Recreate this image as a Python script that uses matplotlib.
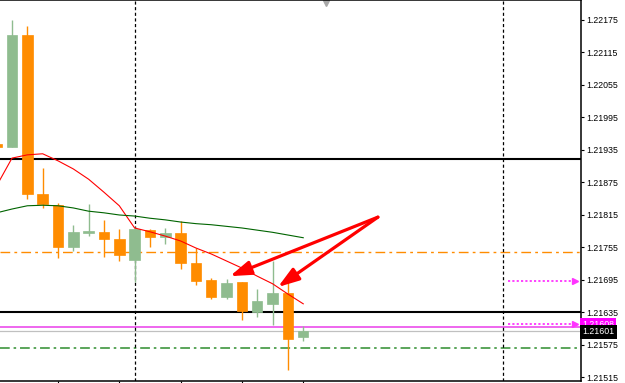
import numpy as np
import matplotlib
matplotlib.use("Agg")
import matplotlib.pyplot as plt
import matplotlib.transforms as mtransforms

# candle data (bar index, open, high, low, close)
bar_idx = list(range(-1, 20))
opens = [1.21946, 1.21941, 1.22147, 1.21853, 1.21833, 1.21755, 1.21782, 1.21784, 1.21770, 1.21732,
         1.21787, 1.21775, 1.21781, 1.21726, 1.21695, 1.21664, 1.21691, 1.21636, 1.21651, 1.21671, 1.21589]
highs = [1.21950, 1.22175, 1.22163, 1.21901, 1.21837, 1.21797, 1.21835, 1.21806, 1.21789, 1.21792,
         1.21789, 1.21791, 1.21804, 1.21754, 1.21699, 1.21697, 1.21691, 1.21678, 1.21730, 1.21706, 1.21610]
lows = [1.21938, 1.21940, 1.21844, 1.21828, 1.21735, 1.21749, 1.21776, 1.21738, 1.21730, 1.21692,
        1.21755, 1.21761, 1.21715, 1.21686, 1.21659, 1.21659, 1.21621, 1.21626, 1.21611, 1.21528, 1.21583]
closes = [1.21941, 1.22147, 1.21853, 1.21835, 1.21755, 1.21784, 1.21786, 1.21770, 1.21741, 1.21790,
          1.21774, 1.21781, 1.21726, 1.21694, 1.21663, 1.21690, 1.21637, 1.21657, 1.21671, 1.21586, 1.21601]

# moving averages
ma_fast = [1.21869, 1.21920, 1.21926, 1.21928, 1.21915, 1.21900, 1.21881, 1.21857, 1.21832, 1.21791,
           1.21784, 1.21776, 1.21767, 1.21754, 1.21743, 1.21730, 1.21717, 1.21702, 1.21688, 1.21669, 1.21651]
ma_slow = [1.21819, 1.21826, 1.21832, 1.21833, 1.21832, 1.21828, 1.21822, 1.21819, 1.21815, 1.21813,
           1.21809, 1.21806, 1.21802, 1.21799, 1.21797, 1.21794, 1.21791, 1.21787, 1.21783, 1.21778, 1.21773]

# horizontal levels
black_levels = [1.21918, 1.21635]
orange_level = 1.21747
green_level = 1.21570
magenta_level = 1.21608
bid_level = 1.21601
dotted_arrows = [1.21694, 1.21613]

v_lines = [8, 32]
x_ticks = [3, 7, 11, 15, 19]
y_ticks = [1.21515, 1.21575, 1.21635, 1.21695, 1.21755, 1.21815,
           1.21875, 1.21935, 1.21995, 1.22055, 1.22115, 1.22175]

arrow_start = (23.87, 1.21811)
arrow_ends = [(14.22, 1.21702), (17.35, 1.21682)]

UP = "#8fbc8f"
DOWN = "#ff8c00"

fig = plt.figure(figsize=(6.25, 3.83), dpi=100)
ax = fig.add_axes([0, 2 / 383, 581 / 625, 381 / 383])

ax.set_xlim(-0.783, 37.12)
ax.set_ylim(1.215085, 1.222119)

# reference lines
for lv in black_levels:
    ax.axhline(lv, color="black", lw=1.5, zorder=1)
ax.axhline(orange_level, color=DOWN, lw=1, dashes=(7, 3, 2, 3), zorder=1)
ax.axhline(green_level, color="#5aa55a", lw=1.4, dashes=(5, 2, 1.3, 2), zorder=1)
ax.axhline(magenta_level, color="#ee66ee", lw=1.4, zorder=1)
ax.axhline(bid_level, color="#c0c0c0", lw=0.9, zorder=1)
for xv in v_lines:
    ax.axvline(xv, color="black", lw=0.9, dashes=(2.5, 2), zorder=1)

# candles
for i, o, h, l, c in zip(bar_idx, opens, highs, lows, closes):
    col = UP if c >= o else DOWN
    ax.vlines(i, l, h, color=col, lw=1, zorder=2)
    ax.bar(i, max(abs(c - o), 0.000015), bottom=min(o, c), width=0.68,
           color=col, edgecolor=col, lw=0.5, zorder=3)

ax.plot(bar_idx, ma_fast, color="red", lw=0.8, zorder=4)
ax.plot(bar_idx, ma_slow, color="#006400", lw=0.8, zorder=4)

# red arrows
for end in arrow_ends:
    ax.annotate("", xy=end, xytext=arrow_start,
                arrowprops=dict(arrowstyle="-|>,head_length=0.9,head_width=0.3",
                                color="red", lw=2.3, mutation_scale=14,
                                shrinkA=0, shrinkB=0), zorder=5)

# magenta dotted arrows at the right
for lv in dotted_arrows:
    ax.plot([32.35, 36.7], [lv, lv], color="#ff33ff", lw=1.3, dashes=(1.2, 1.2), zorder=4)
    ax.plot([36.75], [lv], marker=">", color="#ff33ff", ms=4, zorder=4)

# small marker at top
trans = mtransforms.blended_transform_factory(ax.transData, ax.transAxes)
ax.plot([20.48], [0.993], marker="v", color="#a8a8a8", ms=4.5, transform=trans, clip_on=False)

# axes styling
for side in ["left"]:
    ax.spines[side].set_visible(False)
for side in ["top", "right", "bottom"]:
    ax.spines[side].set_linewidth(1.1)

ax.yaxis.tick_right()
ax.set_yticks(y_ticks)
ax.set_yticklabels(["%.5f" % v for v in y_ticks], fontfamily="Liberation Sans", fontsize=6.3)
ax.tick_params(axis="y", length=2.5, width=0.8, pad=1.5)
ax.set_xticks(x_ticks)
ax.set_xticklabels([])
ax.tick_params(axis="x", length=2.5, width=0.8)

# price labels on the axis
tr2 = mtransforms.blended_transform_factory(ax.transAxes, ax.transData)
ax.text(1.002, magenta_level + 0.00004, "1.21608", transform=tr2, fontsize=6.3,
        fontfamily="Liberation Sans", color="white", va="center", ha="left", clip_on=False,
        bbox=dict(boxstyle="square,pad=0.25", fc="#ff00ff", ec="none"))
ax.text(1.002, bid_level - 0.00002, "1.21601", transform=tr2, fontsize=6.3,
        fontfamily="Liberation Sans", color="white", va="center", ha="left", clip_on=False,
        bbox=dict(boxstyle="square,pad=0.3", fc="black", ec="none"))

plt.savefig("out.png", dpi=100)
